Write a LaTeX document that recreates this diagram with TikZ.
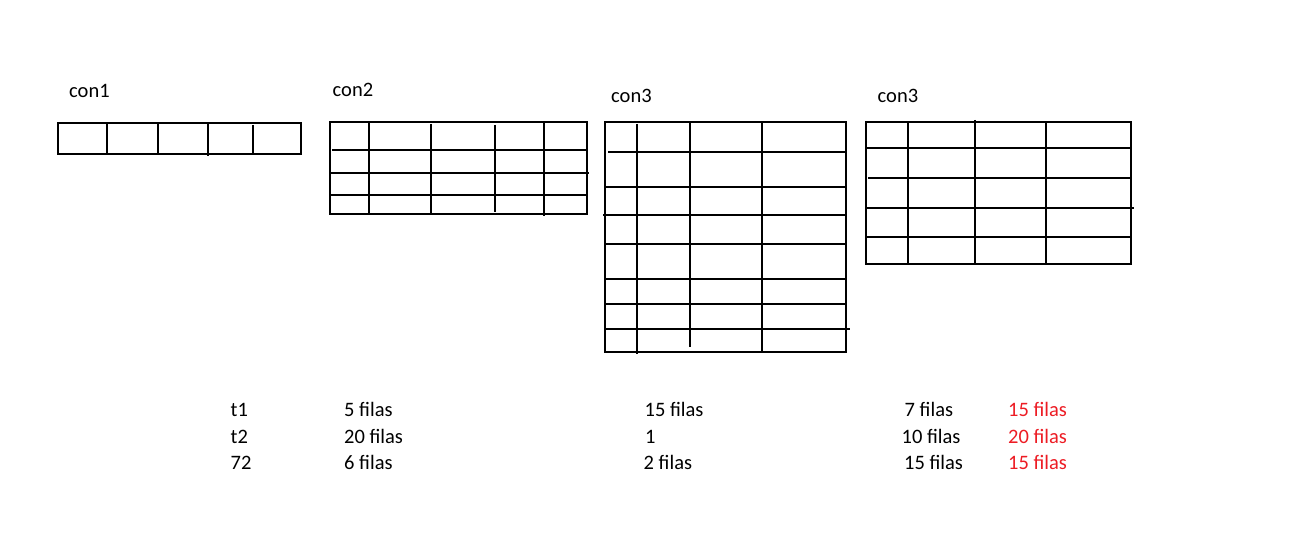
\documentclass[tikz,border=0pt]{standalone}
\usepackage{fontspec}
\setmainfont{Carlito}
\definecolor{paintred}{RGB}{237,28,36}
\begin{document}
\begin{tikzpicture}[x=1pt,y=-1pt,
  lbl/.style={anchor=base west, inner sep=0pt, font=\fontsize{20.5}{24}\selectfont},
  redlbl/.style={lbl, text=paintred},
  gridline/.style={draw=black, line width=1.8pt}]
\useasboundingbox[fill=white] (0,0) rectangle (1302,537);

% ---- table con1
\draw[gridline] (58,123) rectangle (301,154);
\draw[gridline] (107,123) -- (107,154);
\draw[gridline] (158,123) -- (158,154);
\draw[gridline] (208,123) -- (208,156);
\draw[gridline] (253,125) -- (253,153);

% ---- table con2
\draw[gridline] (330,122) rectangle (587,214);
\draw[gridline] (332,150) -- (587,150);
\draw[gridline] (330,173) -- (589,173);
\draw[gridline] (330,195) -- (588,195);
\draw[gridline] (369,122) -- (369,213);
\draw[gridline] (431,124) -- (431,213);
\draw[gridline] (495,125) -- (495,212);
\draw[gridline] (544,122) -- (544,216);

% ---- table con3 (first)
\draw[gridline] (605,122) rectangle (846,352);
\draw[gridline] (637,124) -- (637,354);
\draw[gridline] (690,122) -- (690,347);
\draw[gridline] (762,122) -- (762,351);
\draw[gridline] (608,152) -- (845,152);
\draw[gridline] (605,187) -- (846,187);
\draw[gridline] (603,215) -- (845,215);
\draw[gridline] (605,244) -- (846,244);
\draw[gridline] (605,279) -- (846,279);
\draw[gridline] (605,304) -- (846,304);
\draw[gridline] (604,329) -- (850,329);

% ---- table con3 (second)
\draw[gridline] (866,122) rectangle (1131,264);
\draw[gridline] (908,122) -- (908,263);
\draw[gridline] (975,120) -- (975,264);
\draw[gridline] (1046,122) -- (1046,263);
\draw[gridline] (866,148) -- (1131,148);
\draw[gridline] (868,178) -- (1131,178);
\draw[gridline] (866,208) -- (1134,208);
\draw[gridline] (866,237) -- (1131,237);

% ---- titles
\node[lbl] (c1) at (69,97.3) {con1};
\node[lbl] (c2) at (332.5,96.7) {con2};
\node[lbl] (c3) at (611,102.7) {con3};
\node[lbl] (c4) at (877.5,103) {con3};

% ---- bottom text
\node[lbl] (t1) at (230.5,417) {t1};
\node[lbl] (t2) at (230.5,443) {t2};
\node[lbl] (t3) at (230.5,469) {72};

\node[lbl] (a1) at (344,417) {5 filas};
\node[lbl] (a2) at (344,443) {20 filas};
\node[lbl] (a3) at (344,469) {6 filas};

\node[lbl] (b1) at (644.5,417) {15 filas};
\node[lbl] (b2) at (645,443) {1};
\node[lbl] (b3) at (643.5,469) {2 filas};

\node[lbl] (d1) at (904.5,417) {7 filas};
\node[lbl] (d2) at (901.5,443) {10 filas};
\node[lbl] (d3) at (904,469) {15 filas};

\node[redlbl] (e1) at (1008,417) {15 filas};
\node[redlbl] (e2) at (1008,443) {20 filas};
\node[redlbl] (e3) at (1008,469) {15 filas};
\end{tikzpicture}
\end{document}
